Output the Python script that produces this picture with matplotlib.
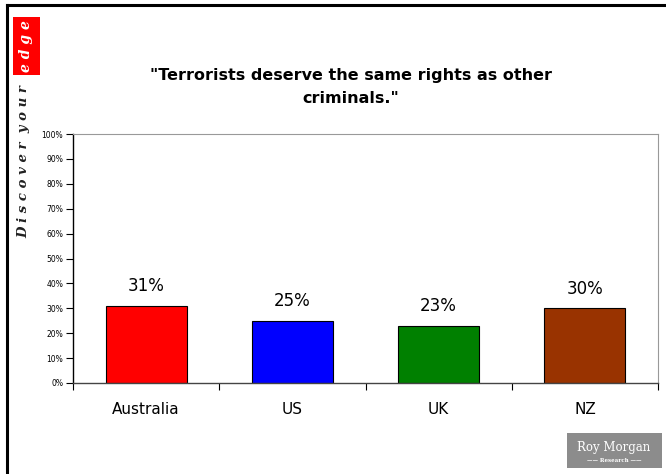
import matplotlib.pyplot as plt
from matplotlib.patches import Rectangle
from matplotlib.lines import Line2D
import numpy as np

countries = ['Australia', 'US', 'UK', 'NZ']
values = [31, 25, 23, 30]
bar_colors = ['#FF0000', '#0000FF', '#008000', '#993300']
title = '"Terrorists deserve the same rights as other\ncriminals."'

fig = plt.figure(figsize=(6.66, 4.74), dpi=100)
ax = fig.add_axes([73 / 666, 1 - 383 / 474, 585 / 666, 249 / 474])

x = np.arange(len(countries))
ax.bar(x, values, width=0.555, color=bar_colors, edgecolor='black', linewidth=0.8)
for xi, v in zip(x, values):
    ax.text(xi, v + 4.2, '%d%%' % v, ha='center', va='bottom', fontsize=12)

ax.set_xlim(-0.5, len(countries) - 0.5)
ax.set_ylim(0, 100)
ax.set_yticks(np.arange(0, 101, 10))
ax.set_yticklabels(['%d%%' % t for t in range(0, 101, 10)], fontsize=5.5)
ax.set_xticks(np.arange(-0.5, len(countries), 1))
ax.set_xticklabels([])
ax.set_xticks(x, minor=True)
ax.set_xticklabels(countries, minor=True, fontsize=11)
ax.tick_params(axis='x', which='minor', length=0, pad=14)
ax.tick_params(axis='x', which='major', length=5, direction='out', width=0.8)
ax.tick_params(axis='y', length=5, direction='out', width=0.8, pad=2)
ax.spines['top'].set_color('#999999')
ax.spines['right'].set_color('#999999')
ax.spines['left'].set_linewidth(1.0)
ax.spines['bottom'].set_linewidth(1.0)
ax.spines['bottom'].set_color('#444444')

fig.text(351 / 666, 1 - 87 / 474, title, ha='center', va='center',
         fontsize=11.5, fontweight='bold', linespacing=1.65)

# page frame
fig.add_artist(Line2D([7 / 666, 7 / 666], [0, 1 - 5 / 474], color='black', lw=2.2))
fig.add_artist(Line2D([7 / 666, 1], [1 - 5 / 474, 1 - 5 / 474], color='black', lw=2.2))

# "Discover your edge" strip
fig.add_artist(Rectangle((13 / 666, 1 - 75 / 474), 27 / 666, 58 / 474,
                         transform=fig.transFigure, color='#FF0000', lw=0))
fig.text(26 / 666, 1 - 46 / 474, 'e d g e', rotation=90, ha='center', va='center',
         color='white', fontsize=10, family='DejaVu Serif', style='italic', fontweight='bold')
fig.text(24 / 666, 1 - 162 / 474, 'D i s c o v e r  y o u r', rotation=90, ha='center',
         va='center', color='#222222', fontsize=9.5, family='DejaVu Serif',
         style='italic', fontweight='bold')

# Roy Morgan logo
fig.add_artist(Rectangle((567 / 666, 1 - 468 / 474), 95 / 666, 35 / 474,
                         transform=fig.transFigure, color='#8c8c8c', lw=0))
fig.text(614 / 666, 1 - 447 / 474, 'Roy Morgan', ha='center', va='center',
         color='white', fontsize=8.5, family='DejaVu Serif')
fig.text(614 / 666, 1 - 461 / 474, '\u2014\u2014 Research \u2014\u2014', ha='center',
         va='center', color='white', fontsize=4, family='DejaVu Serif', fontweight='bold')

fig.savefig('out.png', dpi=100)
